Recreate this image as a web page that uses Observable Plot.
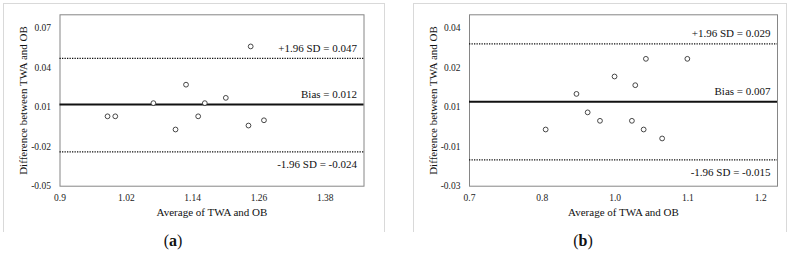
<!DOCTYPE html>
<html>
<head>
<meta charset="utf-8">
<script src="https://cdn.jsdelivr.net/npm/d3@7"></script>
<script src="https://cdn.jsdelivr.net/npm/@observablehq/plot@0.6"></script>
<style>
  html, body { margin: 0; padding: 0; background: #fff; }
  #root { position: relative; width: 800px; height: 262px; overflow: hidden; font-family: "Liberation Serif", serif; }
  #root svg, #root svg g, #root svg text { font-family: "Liberation Serif", "Times New Roman", serif !important; }
  .panel { position: absolute; top: 0; width: 400px; height: 262px; }
  .panel svg { position: absolute; left: 0; top: 0; }
  .border { position: absolute; border: 1px solid #d9d9d9; border-bottom: none; box-sizing: border-box; }
  .cap { position: absolute; top: 232px; transform: translateX(-50%); font-family: "Liberation Serif", serif; font-size: 16px; color: #111; }
  .cap b { font-weight: bold; }
</style>
</head>
<body>
<div id="root">
  <div class="panel" id="pa" style="left:0">
    <div class="border" style="left:3px; top:3px; width:382px; height:229px"></div>
    <div class="cap" style="left:173px">(<b>a</b>)</div>
  </div>
  <div class="panel" id="pb" style="left:400px">
    <div class="border" style="left:13px; top:3px; width:374px; height:229px"></div>
    <div class="cap" style="left:183px">(<b>b</b>)</div>
  </div>
</div>
<script>
// ---- Panel (a) data ----
const xA = [0.986, 1.000, 1.069, 1.109, 1.128, 1.150, 1.162, 1.200, 1.241, 1.245, 1.269];
const yA = [0.003, 0.003, 0.013, -0.007, 0.027, 0.003, 0.013, 0.017, -0.004, 0.056, 0.000];
const linesA = [0.047, 0.012, -0.024];
const lineLabelsA = ["+1.96 SD = 0.047", "Bias = 0.012", "-1.96 SD = -0.024"];
const xDomainA = [0.9, 1.45];
const yDomainA = [-0.05, 0.08];
const xTicksA = [0.9, 1.02, 1.14, 1.26, 1.38];
const xTickLabelsA = ["0.9", "1.02", "1.14", "1.26", "1.38"];
const yTicksA = [-0.05, -0.02, 0.01, 0.04, 0.07];
const yTickLabelsA = ["-0.05", "-0.02", "0.01", "0.04", "0.07"];

// ---- Panel (b) data ----
const xB = [0.836, 0.891, 0.911, 0.933, 0.959, 0.990, 0.996, 1.011, 1.015, 1.044, 1.089];
const yB = [-0.0035, 0.0100, 0.0030, -0.0002, 0.0166, -0.0002, 0.0133, -0.0035, 0.0233, -0.0069, 0.0233];
const linesB = [0.029, 0.007, -0.015];
const lineLabelsB = ["+1.96 SD = 0.029", "Bias = 0.007", "-1.96 SD = -0.015"];
const xDomainB = [0.7, 1.25];
const yDomainB = [-0.025, 0.04];
const xTicksB = [0.7, 0.83, 0.96, 1.09, 1.22];
const xTickLabelsB = ["0.7", "0.8", "1.0", "1.1", "1.2"];
const yTicksB = [-0.025, -0.01, 0.005, 0.02, 0.035];
const yTickLabelsB = ["-0.03", "-0.01", "0.01", "0.02", "0.04"];

const xTitle = "Average of TWA and OB";
const yTitle = "Difference between TWA and OB";

const FONT = '"Liberation Serif", "Times New Roman", serif';

function labeler(ticks, labels) {
  return d => {
    const i = ticks.findIndex(t => Math.abs(t - d) < 1e-9);
    return i >= 0 ? labels[i] : "";
  };
}

const cfgA = {x: xA, y: yA, lines: linesA, lineLabels: lineLabelsA, xDomain: xDomainA, yDomain: yDomainA,
  xTicks: xTicksA, xTickLabels: xTickLabelsA, yTicks: yTicksA, yTickLabels: yTickLabelsA, ml: 59.5, mr: 36.5};
const cfgB = {x: xB, y: yB, lines: linesB, lineLabels: lineLabelsB, xDomain: xDomainB, yDomain: yDomainB,
  xTicks: xTicksB, xTickLabels: xTickLabelsB, yTicks: yTicksB, yTickLabels: yTickLabelsB, ml: 69, mr: 23};

function build(cfg) {
  const pts = cfg.x.map((x, i) => ({x, y: cfg.y[i]}));
  const upper = [{v: cfg.lines[0], label: cfg.lineLabels[0]}];
  const bias = [{v: cfg.lines[1], label: cfg.lineLabels[1]}];
  const lower = [{v: cfg.lines[2], label: cfg.lineLabels[2]}];
  const svg = Plot.plot({
    width: 400,
    height: 232,
    marginLeft: cfg.ml,
    marginRight: cfg.mr,
    marginTop: 14.3,
    marginBottom: 46.3,
    style: `font-family: ${FONT}; font-size: 9.5px; color: #222; background: transparent; overflow: visible;`,
    x: {domain: cfg.xDomain, ticks: cfg.xTicks, tickFormat: labeler(cfg.xTicks, cfg.xTickLabels), tickSize: 0, tickPadding: 8, label: null},
    y: {domain: cfg.yDomain, ticks: cfg.yTicks, tickFormat: labeler(cfg.yTicks, cfg.yTickLabels), tickSize: 0, tickPadding: 9, label: null},
    marks: [
      Plot.frame({stroke: "#868686", strokeWidth: 1}),
      Plot.ruleY(upper, {y: "v", stroke: "#111", strokeWidth: 1.3, strokeDasharray: "1.3,1.2"}),
      Plot.ruleY(lower, {y: "v", stroke: "#111", strokeWidth: 1.3, strokeDasharray: "1.3,1.2"}),
      Plot.ruleY(bias, {y: "v", stroke: "#111", strokeWidth: 2}),
      Plot.dot(pts, {x: "x", y: "y", r: 2.4, stroke: "#333", strokeWidth: 0.9, fill: "white"}),
      Plot.text(upper, {y: "v", text: "label", frameAnchor: "right", textAnchor: "end", dx: -7, dy: -10, fontSize: 11, fontFamily: FONT, fill: "#111"}),
      Plot.text(bias, {y: "v", text: "label", frameAnchor: "right", textAnchor: "end", dx: -7, dy: -10, fontSize: 11, fontFamily: FONT, fill: "#111"}),
      Plot.text(lower, {y: "v", text: "label", frameAnchor: "right", textAnchor: "end", dx: -7, dy: 13, fontSize: 11, fontFamily: FONT, fill: "#111"}),
      Plot.text([xTitle], {text: d => d, frameAnchor: "bottom", textAnchor: "middle", dy: 29.5, fontSize: 11, fontFamily: FONT, fill: "#111"}),
      Plot.text([yTitle], {text: d => d, frameAnchor: "left", textAnchor: "middle", dx: -36.5, rotate: -90, fontSize: 11, fontFamily: FONT, fill: "#111"})
    ]
  });
  svg.querySelectorAll("g, text").forEach(el => { el.style.fontFamily = FONT; });
  return svg;
}

document.getElementById("pa").prepend(build(cfgA));
document.getElementById("pb").prepend(build(cfgB));
</script>
</body>
</html>
